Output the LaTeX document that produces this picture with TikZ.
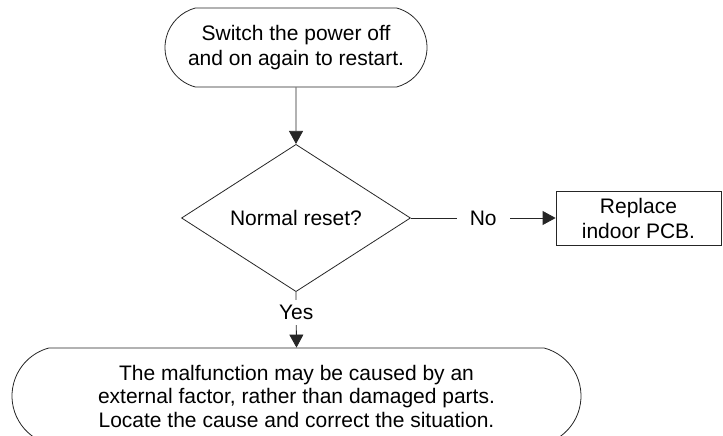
\documentclass[tikz,border=0pt]{standalone}
\usepackage{fontspec}
\setmainfont{Liberation Sans}
\usetikzlibrary{shapes.geometric,shapes.misc,arrows.meta}

\begin{document}
\begin{tikzpicture}[x=1pt,y=-1pt,font=\fontsize{21}{25}\selectfont,
  line width=.8pt,
  terminal/.style={rounded rectangle,rounded rectangle arc length=150,draw=black!85,inner sep=0pt,align=center},
  decision/.style={diamond,draw=black!85,inner sep=0pt},
  process/.style={rectangle,draw=black!85,inner sep=0pt,align=center},
  flow/.style={draw=black!85,-{Triangle[length=13pt,width=14pt]}},
  branch/.style={fill=white,inner sep=0pt}]
\useasboundingbox (0,0) rectangle (723,436);
\clip (0,0) rectangle (723,436);
\node[terminal,minimum width=262,minimum height=79] (restart) at (296,47.5) {Switch the power off\\and on again to restart.};
\node[decision,minimum width=229,minimum height=130] (reset) at (296,218) {Normal reset?};
\node[process,minimum width=165,minimum height=54] (pcb) at (638.5,218) {Replace\\indoor PCB.};
\node[terminal,minimum width=569,minimum height=96,font=\fontsize{21}{23.5}\selectfont] (external) at (296.5,396) {The malfunction may be caused by an\\external factor, rather than damaged parts.\\Locate the cause and correct the situation.};
\draw[flow] (restart) -- (reset);
\draw[flow] (reset.east) -- node[branch,inner xsep=13pt,inner ysep=4pt] (no) {No} (pcb.west);
\draw[flow] (reset.south) -- node[branch,pos=.37,inner ysep=5pt,inner xsep=3pt] (yes) {Yes} (external.north);
\end{tikzpicture}
\end{document}
